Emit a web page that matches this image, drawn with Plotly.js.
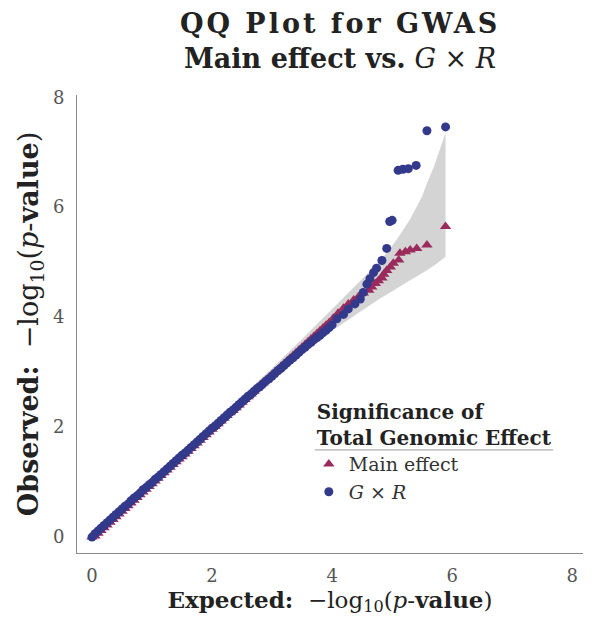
<!DOCTYPE html>
<html>
<head>
<meta charset="utf-8">
<script src="https://cdn.plot.ly/plotly-3.0.1.min.js"></script>
<style>
  html, body { margin: 0; padding: 0; background: #fff; }
  #chart { width: 604px; height: 621px; }
</style>
</head>
<body>
<div id="chart"></div>
<script>
// ---- data ----
const mainExpected = [0.00,0.05,0.10,0.15,0.20,0.25,0.30,0.35,0.40,0.45,0.50,0.55,0.60,0.65,0.70,0.75,0.80,0.85,0.90,0.95,
  1.00,1.05,1.10,1.15,1.20,1.25,1.30,1.35,1.40,1.45,1.50,1.55,1.60,1.65,1.70,1.75,1.80,1.85,1.90,1.95,
  2.00,2.05,2.10,2.15,2.20,2.25,2.30,2.35,2.40,2.45,2.50,2.55,2.60,2.65,2.70,2.75,2.80,2.85,2.90,2.95,
  3.00,3.05,3.10,3.15,3.20,3.25,3.30,3.35,3.40,3.45,3.50,3.55,3.60,3.65,3.70,3.75,3.80,3.85,3.90,3.95,
  4.02,4.10,4.19,4.27,4.36,4.44,4.52,4.61,4.66,4.72,4.77,4.83,4.86,4.91,4.97,5.02,5.11,5.13,5.22,5.30,5.41,5.58,5.89];
const mainObserved = [0.00,0.02,0.07,0.12,0.17,0.22,0.27,0.32,0.37,0.42,0.47,0.52,0.57,0.62,0.67,0.72,0.77,0.82,0.87,0.92,
  0.97,1.02,1.07,1.12,1.17,1.22,1.27,1.32,1.37,1.42,1.46,1.51,1.56,1.61,1.66,1.71,1.76,1.81,1.86,1.91,
  1.96,2.01,2.06,2.11,2.16,2.21,2.26,2.30,2.35,2.40,2.45,2.50,2.55,2.60,2.65,2.70,2.75,2.80,2.85,2.90,
  2.95,3.00,3.05,3.10,3.15,3.20,3.25,3.30,3.35,3.40,3.45,3.50,3.55,3.60,3.65,3.70,3.75,3.80,3.85,3.90,
  3.98,4.07,4.16,4.24,4.31,4.37,4.44,4.49,4.55,4.61,4.66,4.71,4.78,4.85,4.91,4.98,5.04,5.16,5.19,5.22,5.25,5.31,5.65];

const gxrExpected = [0.00,0.05,0.10,0.15,0.20,0.25,0.30,0.35,0.40,0.45,0.50,0.55,0.60,0.65,0.70,0.75,0.80,0.85,0.90,0.95,
  1.00,1.05,1.10,1.15,1.20,1.25,1.30,1.35,1.40,1.45,1.50,1.55,1.60,1.65,1.70,1.75,1.80,1.85,1.90,1.95,
  2.00,2.05,2.10,2.15,2.20,2.25,2.30,2.35,2.40,2.45,2.50,2.55,2.60,2.65,2.70,2.75,2.80,2.85,2.90,2.95,
  3.00,3.05,3.10,3.15,3.20,3.25,3.30,3.35,3.40,3.45,3.50,3.55,3.60,3.65,3.70,3.75,3.80,3.85,3.90,3.95,
  4.00,4.08,4.19,4.27,4.38,4.47,4.52,4.58,4.63,4.69,4.74,4.83,4.91,4.96,5.00,5.10,5.18,5.27,5.40,5.58,5.89];
const gxrObserved = [0.00,0.06,0.11,0.16,0.21,0.26,0.31,0.36,0.41,0.46,0.51,0.56,0.60,0.66,0.71,0.75,0.80,0.86,0.90,0.95,
  0.99,1.05,1.09,1.14,1.19,1.24,1.29,1.34,1.39,1.44,1.49,1.53,1.58,1.63,1.68,1.73,1.78,1.83,1.88,1.93,
  1.98,2.02,2.07,2.12,2.17,2.22,2.27,2.31,2.36,2.41,2.46,2.51,2.56,2.60,2.65,2.70,2.74,2.79,2.84,2.88,
  2.93,2.98,3.03,3.07,3.12,3.17,3.22,3.26,3.31,3.36,3.41,3.45,3.50,3.54,3.59,3.63,3.67,3.72,3.76,3.81,
  3.86,3.97,4.05,4.15,4.24,4.33,4.45,4.60,4.70,4.81,4.89,5.03,5.25,5.74,5.76,6.67,6.69,6.70,6.76,7.39,7.46];

const bandExpected = [0, 1, 2, 3, 3.5, 4.0, 4.5, 4.8, 5.0, 5.1, 5.3, 5.5, 5.58, 5.7, 5.89];
const bandUpper    = [0, 1.02, 2.04, 3.07, 3.60, 4.15, 4.70, 5.02, 5.30, 5.45, 5.78, 6.20, 6.43, 6.75, 7.35];
const bandLower    = [0, 0.98, 1.96, 2.90, 3.32, 3.75, 4.12, 4.34, 4.47, 4.54, 4.67, 4.80, 4.86, 4.94, 5.10];

const tickValues = [0, 2, 4, 6, 8];
const tickLabels = ['0', '2', '4', '6', '8'];

// ---- styling ----
const SERIF = 'DejaVu Serif, Liberation Serif, serif';
const BLUE = '#33398b';
const RED = '#9a2b5c';

const traces = [
  { x: bandExpected, y: bandLower, mode: 'lines', line: {width: 0, color: 'rgba(0,0,0,0)'},
    showlegend: false, hoverinfo: 'skip' },
  { x: bandExpected, y: bandUpper, mode: 'lines', line: {width: 0, color: 'rgba(0,0,0,0)'},
    fill: 'tonexty', fillcolor: '#d4d4d4', showlegend: false, hoverinfo: 'skip' },
  { x: mainExpected, y: mainObserved, mode: 'markers', name: 'Main effect',
    marker: {symbol: 'triangle-up', size: 10, color: RED} },
  { x: gxrExpected, y: gxrObserved, mode: 'markers', name: '<i>G</i> × <i>R</i>',
    marker: {symbol: 'circle', size: 9, color: BLUE} }
];

const axisCommon = {
  showgrid: false, zeroline: false, showline: true, linecolor: '#8a8a8a', linewidth: 1,
  ticks: '', tickvals: tickValues, ticktext: tickLabels,
  tickfont: {family: SERIF, size: 18, color: '#555'}
};

const layout = {
  width: 604, height: 621,
  paper_bgcolor: '#fff', plot_bgcolor: '#fff',
  margin: {l: 77, r: 21, t: 95, b: 68},
  title: {
    text: '<span style="letter-spacing:3px"><b>QQ Plot for GWAS</b></span><br><b>Main effect vs.</b> <i>G</i> × <i>R</i>',
    font: {family: SERIF, size: 27, color: '#222'},
    x: 0.563, xanchor: 'center', xref: 'container',
    y: 0.947, yanchor: 'top', yref: 'container'
  },
  xaxis: Object.assign({}, axisCommon, {
    range: [-0.25, 8.18],
    ticklabelstandoff: 6,
    title: {text: '<b>Expected:</b>  −log<sub>10</sub>(<i>p</i>-<b>value</b>)',
            font: {family: SERIF, size: 23, color: '#222'}, standoff: 5}
  }),
  yaxis: Object.assign({}, axisCommon, {
    range: [-0.29, 8.04],
    ticklabelstandoff: 8,
    title: {text: '<b>Observed:</b>  −log<sub>10</sub>(<i>p</i>-<b>value</b>)',
            font: {family: SERIF, size: 27, color: '#222'}, standoff: 6}
  }),
  legend: {
    x: 0.47, y: 0.349, xanchor: 'left', yanchor: 'top',
    bgcolor: 'rgba(0,0,0,0)',
    font: {family: SERIF, size: 19, color: '#333'},
    title: {text: '<b>Significance of</b><br><b>Total Genomic Effect</b>',
            font: {family: SERIF, size: 20, color: '#222'}},
    traceorder: 'normal', itemwidth: 30, indentation: -6,
    itemsizing: 'trace', tracegroupgap: 0
  },
  shapes: [
    {type: 'line', xref: 'paper', yref: 'paper', x0: 0.470, x1: 0.941, y0: 0.225, y1: 0.225,
     line: {color: '#999', width: 1}}
  ],
  showlegend: true
};

Plotly.newPlot('chart', traces, layout, {displayModeBar: false, staticPlot: true});
</script>
</body>
</html>
